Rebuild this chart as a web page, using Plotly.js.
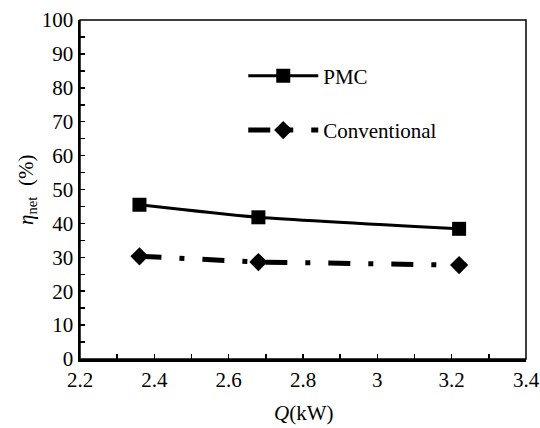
<!DOCTYPE html>
<html>
<head>
<meta charset="utf-8">
<script src="https://cdn.plot.ly/plotly-3.0.1.min.js"></script>
<style>html,body{margin:0;padding:0;background:#fff;}#chart{width:540px;height:428px;}</style>
</head>
<body>
<div id="chart"></div>
<script>
const Q = [2.36, 2.68, 3.22];
const pmc = [45.5, 41.8, 38.4];
const conventional = [30.3, 28.6, 27.7];
const seriesNames = ['PMC', 'Conventional'];
const xTicks = [2.2, 2.4, 2.6, 2.8, 3, 3.2, 3.4];
const yTicks = [0, 10, 20, 30, 40, 50, 60, 70, 80, 90, 100];

const font = 'Liberation Serif';

const traces = [
  {
    x: Q, y: pmc, name: seriesNames[0], type: 'scatter', mode: 'lines+markers',
    legendgroup: 'a',
    line: {color: '#000', width: 3, shape: 'spline', smoothing: 0.6},
    marker: {symbol: 'square', size: 14, color: '#000'}
  },
  {
    x: Q, y: conventional, name: seriesNames[1], type: 'scatter', mode: 'lines+markers',
    legendgroup: 'b',
    line: {color: '#000', width: 5, dash: '22px,18px,5px,18px'},
    marker: {symbol: 'diamond', size: 14, color: '#000'}
  }
];

const layout = {
  width: 540, height: 428,
  margin: {l: 79.5, r: 14.3, t: 20, b: 69},
  paper_bgcolor: '#fff', plot_bgcolor: '#fff',
  font: {family: font, size: 21, color: '#000'},
  showlegend: true,
  legend: {
    x: 0.366, y: 0.895, xanchor: 'left', yanchor: 'top',
    bgcolor: 'rgba(0,0,0,0)', borderwidth: 0,
    font: {family: font, size: 21, color: '#000'},
    tracegroupgap: 24, itemwidth: 70
  },
  xaxis: {
    range: [2.2, 3.4], tickvals: xTicks, ticktext: xTicks.map(String),
    ticks: 'inside', ticklen: 5, tickwidth: 1.5, tickcolor: '#000',
    minor: {dtick: 0.1, ticks: 'inside', ticklen: 5, tickwidth: 1.5, tickcolor: '#000'},
    showline: true, linecolor: '#000', linewidth: 2.5, mirror: false,
    showgrid: false, zeroline: false,
    tickfont: {family: font, size: 21, color: '#000'}
  },
  yaxis: {
    range: [0, 100], tickvals: yTicks, ticktext: yTicks.map(String),
    ticks: 'inside', ticklen: 5, tickwidth: 1.5, tickcolor: '#000',
    minor: {dtick: 5, ticks: 'inside', ticklen: 5, tickwidth: 1.5, tickcolor: '#000'},
    showline: true, linecolor: '#000', linewidth: 2.5, mirror: false,
    showgrid: false, zeroline: false,
    tickfont: {family: font, size: 21, color: '#000'}
  },
  shapes: [
    {type: 'rect', xref: 'paper', yref: 'paper', x0: 0, x1: 1, y0: 0, y1: 1,
     line: {color: '#000', width: 1.5}, layer: 'above'}
  ],
  annotations: [
    {text: '<i>η</i><sub>net</sub>  (%)', xref: 'paper', yref: 'paper',
     x: -0.12, y: 0.5, xanchor: 'center', yanchor: 'middle', textangle: -90,
     showarrow: false, font: {family: font, size: 21, color: '#000'}},
    {text: '<i>Q</i>(kW)', xref: 'paper', yref: 'paper',
     x: 0.5, y: -0.2, xanchor: 'center', yanchor: 'bottom',
     showarrow: false, font: {family: font, size: 21, color: '#000'}}
  ]
};

Plotly.newPlot('chart', traces, layout, {displayModeBar: false, staticPlot: true});
</script>
</body>
</html>
